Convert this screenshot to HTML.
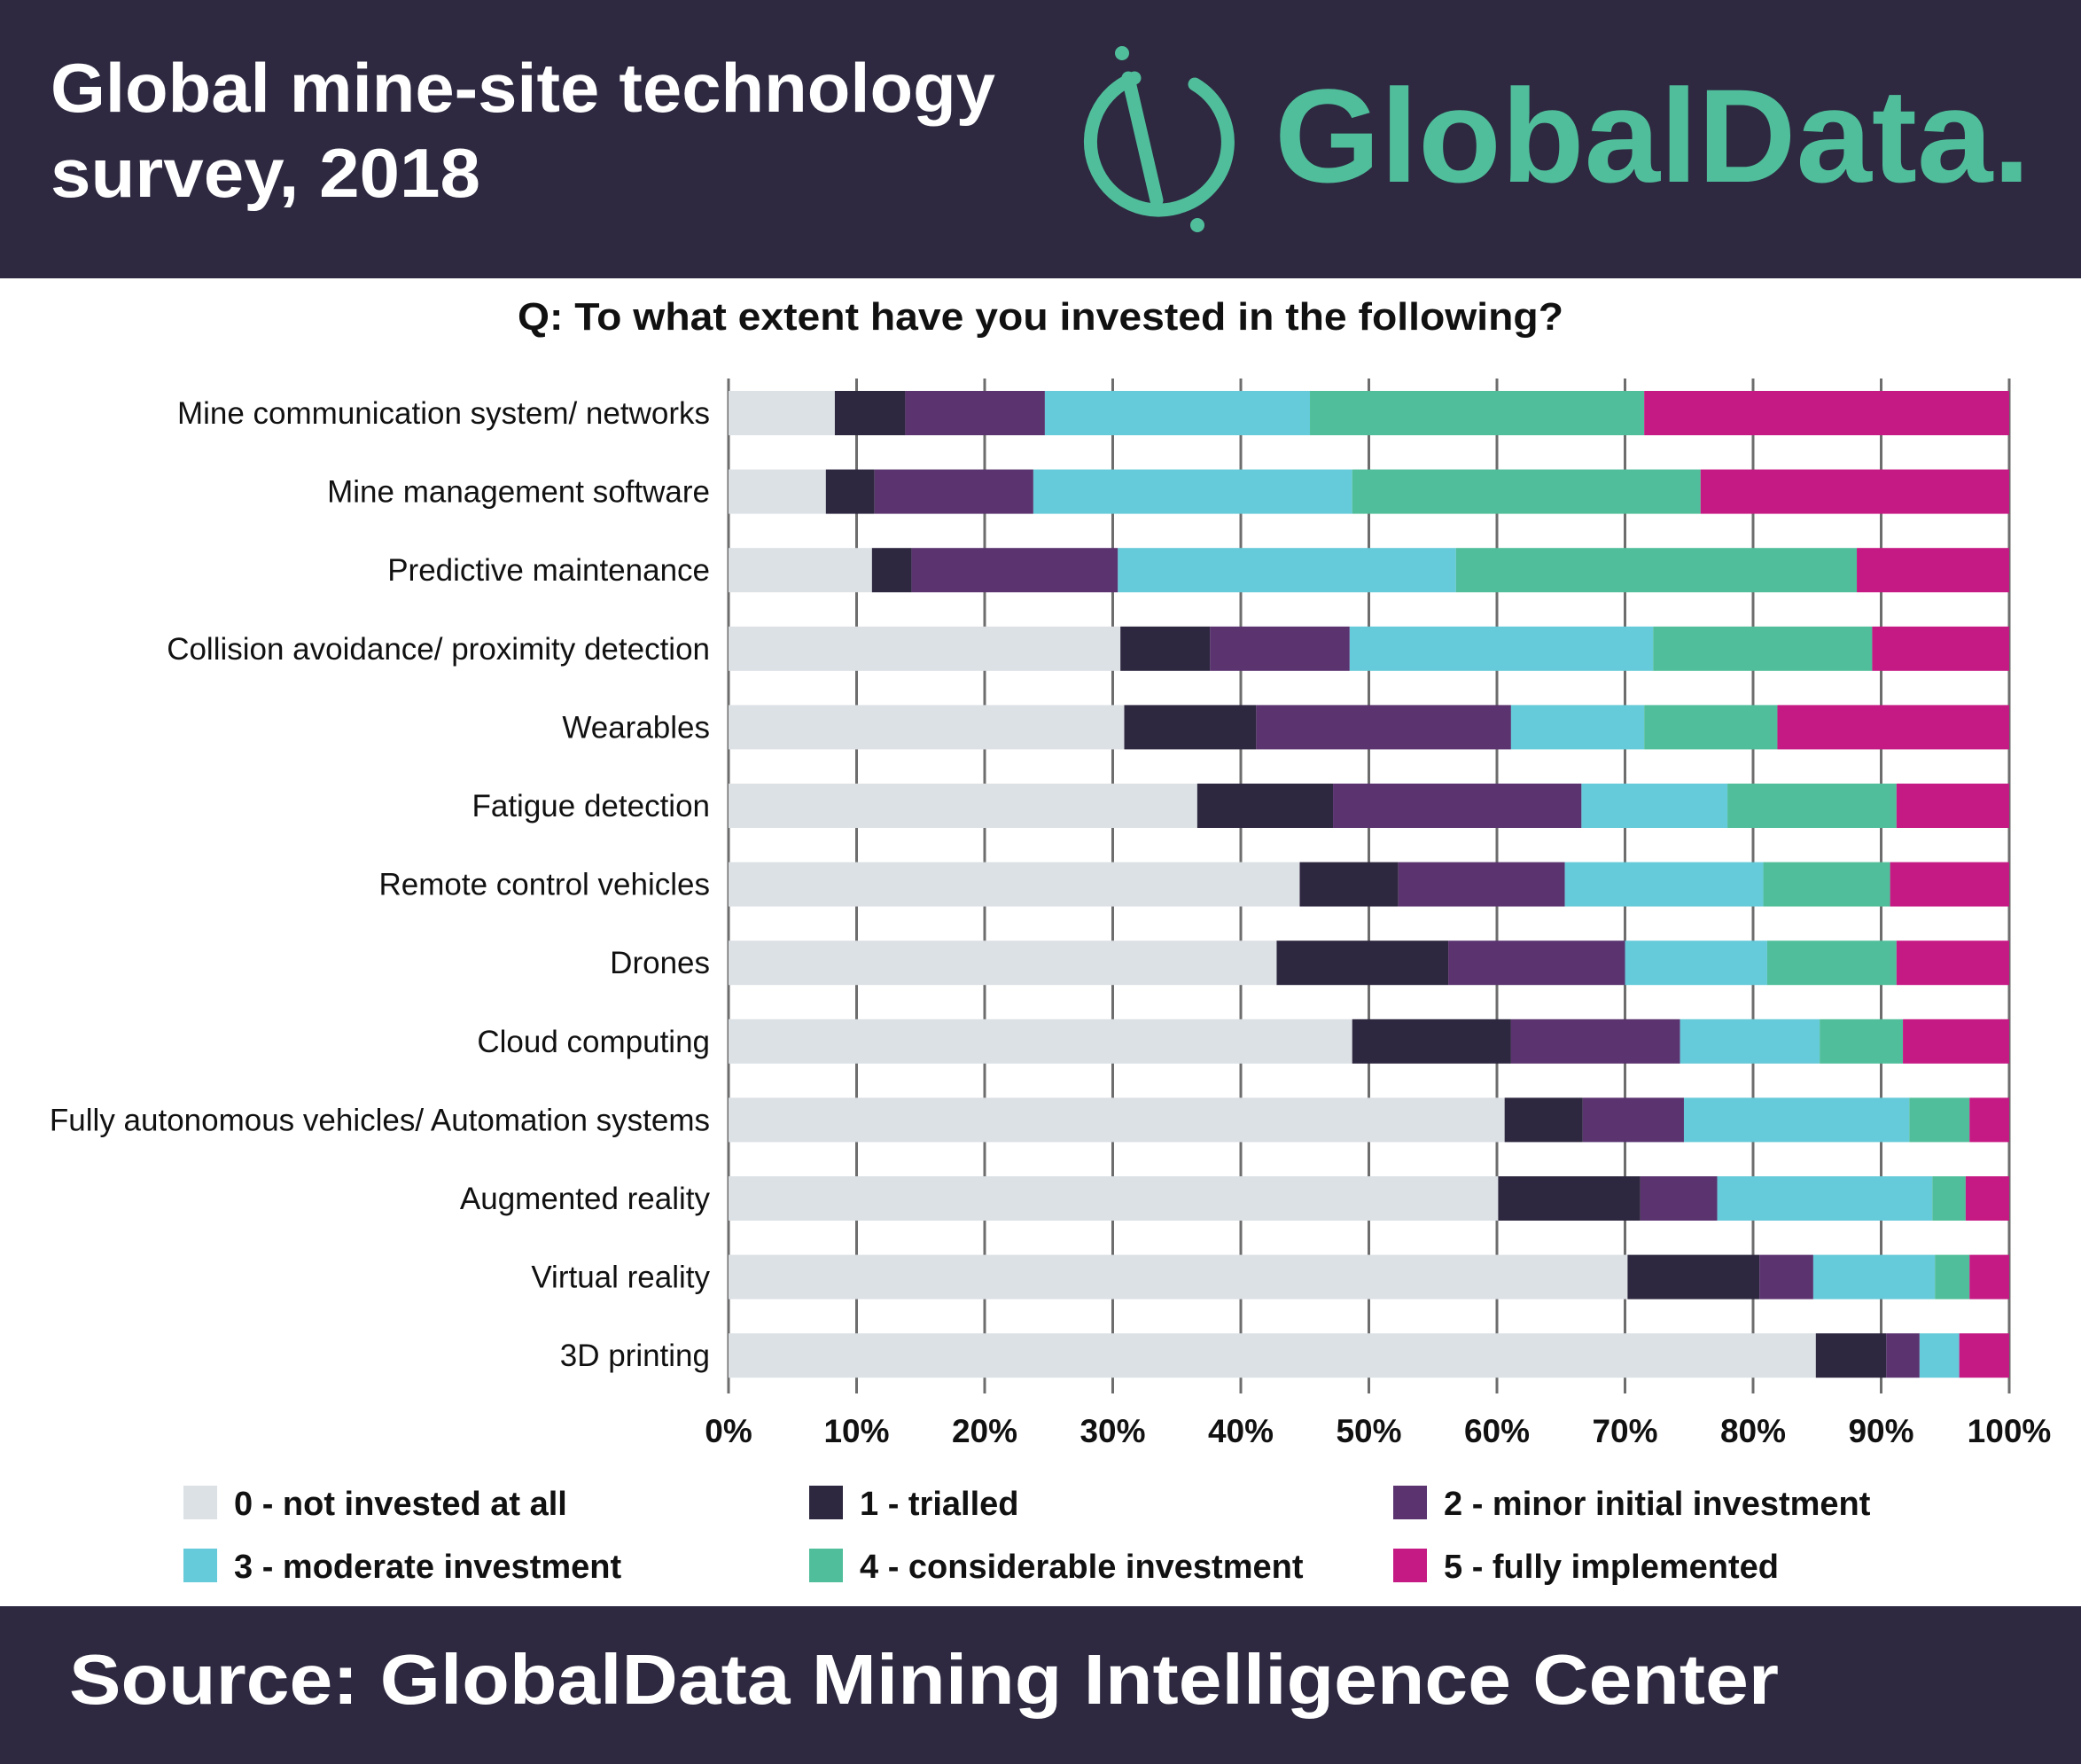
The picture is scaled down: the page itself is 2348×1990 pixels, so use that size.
<!DOCTYPE html>
<html><head><meta charset="utf-8"><style>
html,body{margin:0;padding:0;background:#fff;}
svg{display:block;font-family:"Liberation Sans",sans-serif;}
</style></head><body>
<svg id="chart" width="2348" height="1990" viewBox="0 0 2348 1990">
<rect x="0" y="0" width="2348" height="314" fill="#2e2940"/>
<text x="57" y="126" fill="#fff" font-size="78" font-weight="bold" textLength="1066" lengthAdjust="spacingAndGlyphs">Global mine-site technology</text>
<text x="57" y="222" fill="#fff" font-size="78" font-weight="bold" textLength="485" lengthAdjust="spacingAndGlyphs">survey, 2018</text>
<g fill="none" stroke="#50be9b" stroke-linecap="round">
<path d="M 1280 88 A 76 76 0 1 0 1335 232" stroke-width="15"/>
<path d="M 1335 232 A 76 76 0 0 0 1348 95" stroke-width="15"/>
<line x1="1273" y1="88" x2="1305" y2="226" stroke-width="15"/>
<circle cx="1266" cy="60" r="8" fill="#50be9b" stroke="none"/>
<circle cx="1351" cy="254" r="8" fill="#50be9b" stroke="none"/>
</g>
<text x="1438" y="205" fill="#50be9b" font-size="150" font-weight="bold" textLength="853" lengthAdjust="spacingAndGlyphs">GlobalData.</text>
<text x="584" y="372" fill="#111" font-size="44" font-weight="bold" textLength="1180" lengthAdjust="spacingAndGlyphs">Q:  To what extent have you invested in the following?</text>
<g id="grid"></g>
<g id="bars"></g>
<g id="cats"></g>
<g id="ticks"></g>
<g id="legend"></g>
<rect x="0" y="1812" width="2348" height="178" fill="#2e2940"/>
<text x="78" y="1922" fill="#fff" font-size="80" font-weight="bold" textLength="1929" lengthAdjust="spacingAndGlyphs">Source: GlobalData Mining Intelligence Center</text>
</svg>
<script>
const categories = ["Mine communication system/ networks","Mine management software","Predictive maintenance","Collision avoidance/ proximity detection","Wearables","Fatigue detection","Remote control vehicles","Drones","Cloud computing","Fully autonomous vehicles/ Automation systems","Augmented reality","Virtual reality","3D printing"];
const notInvested = [8.3,7.6,11.2,30.6,30.9,36.6,44.6,42.8,48.7,60.6,60.1,70.2,84.9];
const trialled = [5.5,3.8,3.1,7.0,10.3,10.6,7.7,13.4,12.4,6.1,11.1,10.3,5.5];
const minorInvestment = [10.9,12.4,16.1,10.9,19.9,19.4,13.0,13.8,13.2,7.9,6.0,4.2,2.6];
const moderateInvestment = [20.7,24.9,26.4,23.7,10.4,11.4,15.5,11.1,10.9,17.6,16.8,9.5,3.1];
const considerableInvestment = [26.1,27.2,31.3,17.1,10.4,13.2,9.9,10.1,6.5,4.7,2.6,2.7,0];
const fullyImplemented = [28.5,24.1,11.9,10.7,18.1,8.8,9.3,8.8,8.3,3.1,3.4,3.1,3.9];
const tickLabels = ["0%","10%","20%","30%","40%","50%","60%","70%","80%","90%","100%"];
const seriesNames = ["0 - not invested at all","1 - trialled","2 - minor initial investment","3 - moderate investment","4 - considerable investment","5 - fully implemented"];

const series = [notInvested,trialled,minorInvestment,moderateInvestment,considerableInvestment,fullyImplemented];
const colors = ["#dce1e5","#2e2740","#5a336f","#65cad9","#50be9a","#c51983"];
const X0=822, X1=2267, TOP=427, BOT=1572, Y0=466, STEP=88.6, BH=50;
const NS="http://www.w3.org/2000/svg";
const xs = v => X0 + (X1-X0)*v/100;
const ys = i => Y0 + STEP*i;
function mk(tag, attrs, parent){const e=document.createElementNS(NS,tag);for(const k in attrs)e.setAttribute(k,attrs[k]);parent.appendChild(e);return e;}
const grid=document.getElementById('grid'), bars=document.getElementById('bars'), cats=document.getElementById('cats'), ticks=document.getElementById('ticks'), legend=document.getElementById('legend');
tickLabels.forEach((t,i)=>{
  const x=xs(i*10);
  const l=mk('line',{x1:x,x2:x,y1:TOP,y2:BOT,stroke:'#6d6d6d','stroke-width':3},grid);
  
  
  const tx=mk('text',{x:x,y:1627,'text-anchor':'middle','font-size':37,'font-weight':'bold',fill:'#111'},ticks);
  tx.textContent=t;
  
  
});
categories.forEach((c,i)=>{
  let acc=0;
  series.forEach((s,k)=>{
    const r=mk('rect',{x:xs(acc),y:ys(i)-BH/2,width:Math.max(0,xs(acc+s[i])-xs(acc)),height:BH,fill:colors[k]},bars);
    
    
    acc+=s[i];
  });
  const t=mk('text',{x:801,y:ys(i)+12,'text-anchor':'end','font-size':35,fill:'#111'},cats);
  t.textContent=c;
  
  
});
const lx=[207,913,1572], ly=[1695,1766];
seriesNames.forEach((n,k)=>{
  const x=lx[k%3], y=ly[Math.floor(k/3)];
  const g=mk('g',{},legend);
  
  
  mk('rect',{x:x,y:y-19,width:38,height:38,fill:colors[k]},g);
  const t=mk('text',{x:x+57,y:y+14,'font-size':38,'font-weight':'bold',fill:'#111'},g);
  t.textContent=n;
});
</script>
</body></html>
